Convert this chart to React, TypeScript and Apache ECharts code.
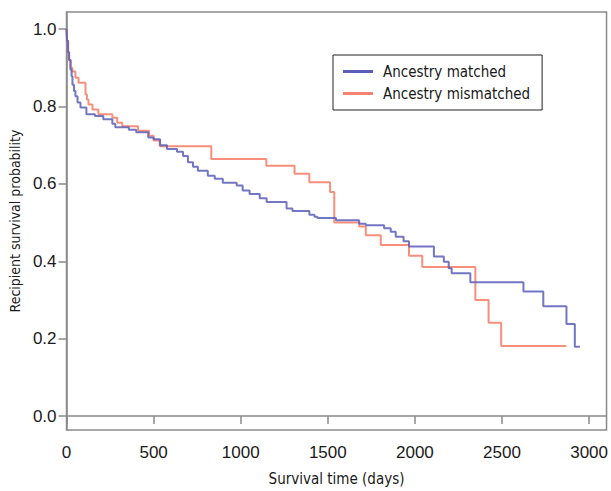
import React, { useEffect, useRef } from "react";
import * as echarts from "echarts";

const xTicks = [0, 500, 1000, 1500, 2000, 2500, 3000];
const yTicks = [0, 0.2, 0.4, 0.6, 0.8, 1.0];
const seriesNames = ["Ancestry matched", "Ancestry mismatched"];

const matchedTimes = [0, 3, 9, 15, 23, 29, 34, 43, 51, 63, 80, 114, 163, 211, 263, 280, 358, 400, 469, 500, 537, 577, 634, 669, 697, 726, 754, 811, 851, 897, 977, 1011, 1051, 1109, 1149, 1263, 1297, 1394, 1423, 1440, 1547, 1680, 1718, 1823, 1861, 1890, 1935, 1966, 2109, 2166, 2194, 2211, 2318, 2623, 2737, 2870, 2918, 2947];
const matchedSurv = [1.0, 0.97, 0.94, 0.92, 0.895, 0.878, 0.856, 0.84, 0.826, 0.81, 0.797, 0.78, 0.775, 0.767, 0.755, 0.746, 0.74, 0.733, 0.72, 0.715, 0.7, 0.69, 0.683, 0.672, 0.656, 0.644, 0.634, 0.621, 0.613, 0.603, 0.596, 0.583, 0.574, 0.563, 0.553, 0.536, 0.53, 0.52, 0.515, 0.512, 0.506, 0.497, 0.493, 0.485, 0.476, 0.463, 0.452, 0.438, 0.412, 0.399, 0.382, 0.369, 0.346, 0.322, 0.284, 0.238, 0.179, 0.179];

const mismatchedTimes = [0, 3, 8, 14, 23, 33, 51, 69, 109, 117, 126, 149, 183, 263, 291, 320, 411, 474, 500, 535, 831, 1147, 1309, 1394, 1513, 1537, 1680, 1718, 1804, 1966, 2042, 2347, 2423, 2495, 2870];
const mismatchedSurv = [1.0, 0.97, 0.94, 0.92, 0.9, 0.89, 0.874, 0.861, 0.831, 0.818, 0.805, 0.792, 0.78, 0.771, 0.758, 0.749, 0.737, 0.724, 0.712, 0.697, 0.664, 0.647, 0.626, 0.604, 0.579, 0.5, 0.49, 0.467, 0.442, 0.414, 0.385, 0.3, 0.241, 0.181, 0.181];

const condensed = "'Liberation Sans Narrow', 'DejaVu Sans Condensed', 'Noto Sans', sans-serif";
const tickFont = "'Liberation Sans', Arial, sans-serif";
const axisGray = "#8a8a8a";

export default function App() {
  const ref = useRef<HTMLDivElement>(null);
  useEffect(() => {
    const chart = echarts.init(ref.current!, null, { renderer: "svg" });
    const zip = (t: number[], s: number[]) => t.map((v, i) => [v, s[i]]);
    chart.setOption({
      animation: false,
      backgroundColor: "#ffffff",
      grid: {
        left: 66,
        top: 12,
        right: 2,
        bottom: 58,
        show: true,
        borderColor: axisGray,
        borderWidth: 1.5,
        containLabel: false,
      },
      legend: {
        orient: "vertical",
        left: 333,
        top: 55,
        borderColor: "#222",
        borderWidth: 1,
        padding: [9, 12, 9, 10],
        itemGap: 7,
        itemWidth: 30,
        itemHeight: 3,
        icon: "rect",
        data: seriesNames,
        textStyle: {
          fontSize: 15,
          fontFamily: condensed,
          color: "#1a1a1a",
          padding: [0, 0, 0, 5],
        },
      },
      xAxis: {
        type: "value",
        min: 0,
        max: 3100,
        name: "Survival time (days)",
        nameLocation: "middle",
        nameGap: 41,
        nameTextStyle: { fontSize: 15, fontFamily: condensed, color: "#1a1a1a" },
        axisLine: { show: true, lineStyle: { color: axisGray, width: 1.5 } },
        axisTick: { show: true, length: 8, customValues: xTicks, lineStyle: { color: axisGray, width: 1.5 } },
        axisLabel: {
          customValues: xTicks,
          fontSize: 17,
          fontFamily: tickFont,
          color: "#1a1a1a",
          margin: 14,
          formatter: (v: number) => String(v),
        },
        splitLine: { show: false },
      },
      yAxis: {
        type: "value",
        min: -0.036,
        max: 1.044,
        name: "Recipient survival probability",
        nameLocation: "middle",
        nameGap: 42,
        nameTextStyle: { fontSize: 14, fontFamily: condensed, color: "#1a1a1a" },
        axisLine: { show: true, lineStyle: { color: axisGray, width: 1.5 } },
        axisTick: { show: true, length: 8, customValues: yTicks, lineStyle: { color: axisGray, width: 1.5 } },
        axisLabel: {
          customValues: yTicks,
          fontSize: 17,
          fontFamily: tickFont,
          color: "#1a1a1a",
          margin: 10,
          formatter: (v: number) => v.toFixed(1),
        },
        splitLine: { show: false },
      },
      series: [
        {
          name: seriesNames[0],
          type: "line",
          step: "end",
          symbol: "none",
          data: zip(matchedTimes, matchedSurv),
          itemStyle: { color: "#5b5eb8" },
          lineStyle: { color: "#5b5eb8", width: 2, opacity: 0.85 },
          z: 3,
        },
        {
          name: seriesNames[1],
          type: "line",
          step: "end",
          symbol: "none",
          data: zip(mismatchedTimes, mismatchedSurv),
          itemStyle: { color: "#f7836e" },
          lineStyle: { color: "#f7836e", width: 2, opacity: 0.9 },
          z: 2,
        },
      ],
    });
    return () => chart.dispose();
  }, []);
  return <div ref={ref} style={{ position: "absolute", left: 0, top: 0, width: 611, height: 491 }} />;
}
